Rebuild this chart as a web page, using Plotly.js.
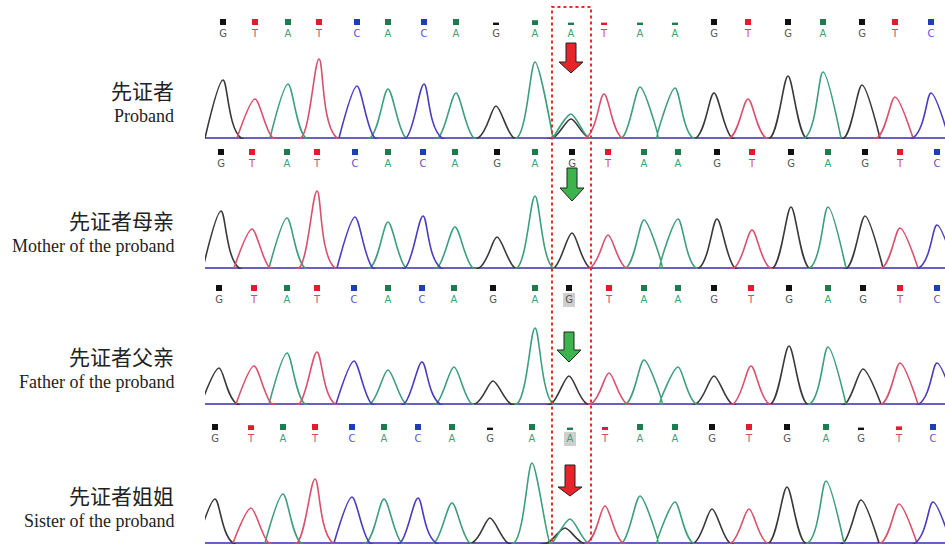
<!DOCTYPE html>
<html><head><meta charset="utf-8">
<script src="https://cdn.plot.ly/plotly-3.0.1.min.js"></script>
<style>html,body{margin:0;padding:0;background:#fff}#chart{width:945px;height:544px}</style>
</head><body><div id="chart"></div>
<script>
// Base calls per sample
const seqProband = ['G','T','A','T','C','A','C','A','G','A','A','T','A','A','G','T','G','A','G','T','C'];
const seqMother  = ['G','T','A','T','C','A','C','A','G','A','G','T','A','A','G','T','G','A','G','T','C'];
const seqFather  = ['G','T','A','T','C','A','C','A','G','A','G','T','A','A','G','T','G','A','G','T','C'];
const seqSister  = ['G','T','A','T','C','A','C','A','G','A','A','T','A','A','G','T','G','A','G','T','C'];
// Peak (scan) positions
const posProband = [223,255,288,319,357,388,424,456,496,535,571,604,640,675,714,748,788,823,862,895,931];
const posMother  = [221,252,287,317,355,388,423,455,497,535,572,608,644,678,717,752,791,828,865,900,937];
const posFather  = [219,254,287,317,354,388,422,454,493,535,569,609,644,678,714,751,789,828,863,900,937];
const posSister  = [215,251,283,315,352,384,418,452,490,532,570,605,640,675,712,749,787,826,861,899,933];
// Peak heights (signal)
const hProband = [58,39,54,79,52,49,54,45,32,76,24,44,51,50,45,39,62,66,53,41,45];
const hMother  = [57,39,50,77,51,46,52,41,31,72,35,33,48,49,49,38,61,61,52,40,43];
const hFather  = [36,38,51,52,43,34,42,37,23,76,28,31,44,37,28,38,58,57,35,41,41];
const hSister  = [44,35,49,64,46,44,45,40,25,80,24,37,47,41,34,34,56,62,43,39,41];
// Quality bars
const qProband = [1,1,1,1,1,1,1,1,0.4,0.8,0.4,0.4,0.4,0.4,1,1,1,1,1,1,1];
const qMother  = [1,1,1,1,1,1,1,1,1,1,1,1,1,1,1,1,1,1,1,1,1];
const qFather  = [1,1,1,1,1,1,1,1,1,1,1,1,1,1,1,1,1,1,1,1,1];
const qSister  = [1,0.8,1,1,1,1,1,1,0.4,1,0.4,0.5,1,1,1,1,1,1,0.4,0.6,1];
// Secondary (heterozygous) peaks at the variant site
const secBase = ['G', null, null, 'G'];
const secPos  = [571, null, null, 565];
const secH    = [19, null, null, 15];
// Labels
const labelsZh = ['先证者','先证者母亲','先证者父亲','先证者姐姐'];
const labelsEn = ['Proband','Mother of the proband','Father of the proband','Sister of the proband'];
const arrowColor = ['red','green','green','red'];

const peakColor = {A:'#3d9e7c', C:'#4a3cc0', G:'#383838', T:'#d9506c'};
const textColor = {A:'#3f9f78', C:'#5a52c8', G:'#555555', T:'#d24a68'};
const boxColor  = {A:'#1f7a4c', C:'#1d3fb4', G:'#111111', T:'#e8192c'};

const panels = [
  {seq:seqProband,pos:posProband,h:hProband,q:qProband,base:138,top:95,head:76,tip:65,hl:false},
  {seq:seqMother, pos:posMother, h:hMother, q:qMother, base:268,top:100,head:80,tip:67,hl:false},
  {seq:seqFather, pos:posFather, h:hFather, q:qFather, base:404,top:72,head:54,tip:42,hl:true},
  {seq:seqSister, pos:posSister, h:hSister, q:qSister, base:543,top:78,head:56,tip:47,hl:true}
];

const H = 544, W = 18, VAR = 10;
const traces = [], shapes = [], annotations = [];
const layout = {
  width:945, height:544, margin:{l:0,r:0,t:0,b:0}, showlegend:false,
  paper_bgcolor:'#fff', plot_bgcolor:'rgba(0,0,0,0)', barmode:'overlay',
  xaxis:{domain:[205/945,1], range:[205,945], visible:false, fixedrange:true}
};

panels.forEach((p,i)=>{
  const yk = i===0 ? 'y' : 'y'+(i+1);
  const yaxKey = i===0 ? 'yaxis' : 'yaxis'+(i+1);
  const bot = p.base+1, topPx = p.base-129;
  layout[yaxKey] = {domain:[(H-bot)/H,(H-topPx)/H], range:[-1,129], fixedrange:true, anchor:'x',
    showgrid:false, showticklabels:false, ticks:'', showline:false,
    zeroline:true, zerolinecolor:'#6a5fc4', zerolinewidth:1.3};
  ['G','A','T','C'].forEach(ch=>{
    const peaks = [];
    p.seq.forEach((b,j)=>{ if(b===ch) peaks.push([p.pos[j], p.h[j]]); });
    if(secBase[i]===ch) peaks.push([secPos[i], secH[i]]);
    peaks.sort((a,b)=>a[0]-b[0]);
    const xs=[], ys=[];
    peaks.forEach(([c,h])=>{ xs.push(c-W,c,c+W); ys.push(0,h,0); });
    traces.push({type:'scatter', mode:'lines', x:xs, y:ys, xaxis:'x', yaxis:yk, connectgaps:false,
      line:{color:peakColor[ch], width:1.6, shape:'spline', smoothing:0.75}, hoverinfo:'skip'});
  });
  traces.push({type:'bar', x:p.pos, y:p.q.map(v=>6*v), base:113, width:6, xaxis:'x', yaxis:yk,
    marker:{color:p.seq.map(b=>boxColor[b]), line:{width:0}}, hoverinfo:'skip'});
  traces.push({type:'scatter', mode:'text', x:p.pos, y:p.seq.map(()=>104), text:p.seq, xaxis:'x', yaxis:yk,
    textfont:{family:'DejaVu Sans', size:10, color:p.seq.map(b=>textColor[b])}, cliponaxis:false, hoverinfo:'skip'});
  if(p.hl){
    const c = p.pos[VAR];
    shapes.push({type:'rect', xref:'x', yref:yk, x0:c-6, x1:c+6, y0:97, y1:111, fillcolor:'#cfcfcf', line:{width:0}, layer:'below'});
  }
  const cx = p.pos[VAR];
  const fill = arrowColor[i]==='red' ? '#e8232a' : '#3cb44b';
  shapes.push({type:'path', xref:'x', yref:yk,
    path:`M ${cx-5},${p.top} L ${cx+5},${p.top} L ${cx+5},${p.head} L ${cx+12},${p.head} L ${cx},${p.tip} L ${cx-12},${p.head} L ${cx-5},${p.head} Z`,
    fillcolor:fill, line:{color:'#222', width:1}});
  annotations.push({xref:'paper', yref:'paper', x:176/945, y:(H-(p.base-48))/H, xanchor:'right', yanchor:'middle',
    text:labelsZh[i], showarrow:false, font:{family:'Noto Sans CJK SC', size:21, color:'#222'}});
  annotations.push({xref:'paper', yref:'paper', x:176/945, y:(H-(p.base-22))/H, xanchor:'right', yanchor:'middle',
    text:labelsEn[i], showarrow:false, font:{family:'Liberation Serif', size:18, color:'#222'}});
});

shapes.push({type:'rect', xref:'x', yref:'paper', x0:552, x1:591, y0:-0.01, y1:(H-7)/H,
  line:{color:'#e0321e', width:2, dash:'dot'}, fillcolor:'rgba(0,0,0,0)'});

layout.shapes = shapes;
layout.annotations = annotations;
Plotly.newPlot('chart', traces, layout, {staticPlot:true, displayModeBar:false});
</script>
</body></html>
